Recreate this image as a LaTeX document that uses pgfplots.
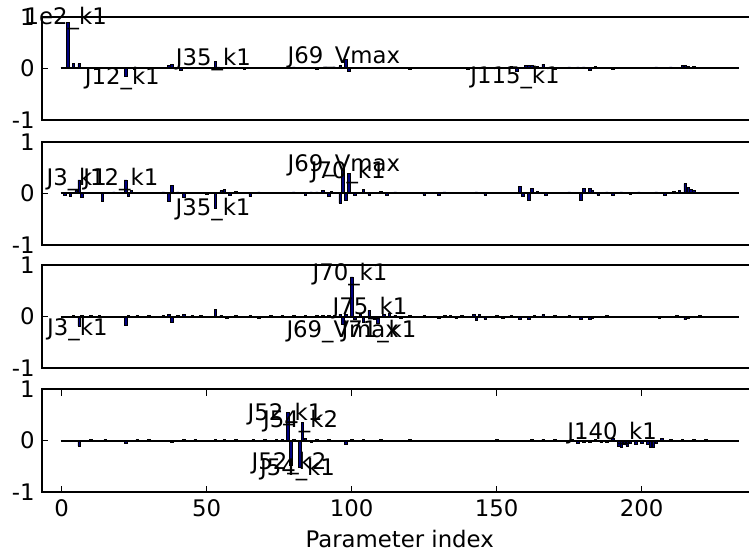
\documentclass[border=0pt]{standalone}
\usepackage{fontspec}
\setmainfont{DejaVu Sans}
\usepackage{pgfplots}
\pgfplotsset{compat=1.18}
\usepackage{pgfplotstable}
\newcommand\lbl{\fontsize{11.4pt}{13pt}\selectfont}
\definecolor{barnavy}{HTML}{000080}

\pgfplotstableread{
x y
2 0.89
4 0.10
6 0.09
12 -0.02
16 0.02
22 -0.16
25 -0.02
30 0.02
37 0.05
38 0.08
41 -0.03
44 0.02
53 0.13
54 0.03
58 0.02
63 -0.02
70 0.02
75 0.02
80 0.03
84 0.02
88 -0.02
91 0.03
94 0.03
96 0.05
98 0.18
99 -0.05
102 0.02
110 0.02
120 -0.02
130 0.02
140 -0.02
150 0.02
155 0.04
157 -0.06
160 0.05
161 0.06
162 0.05
164 0.04
166 0.08
170 -0.02
175 0.03
178 0.03
180 0.03
182 -0.03
184 0.04
190 -0.02
195 0.02
200 0.02
205 0.03
210 0.03
214 0.05
215 0.06
216 0.04
218 0.04
222 0.02
}\dataA

\pgfplotstableread{
x y
1 -0.03
3 -0.06
5 0.05
6 0.26
7 -0.07
10 0.02
14 -0.15
18 0.03
22 0.26
23 -0.05
24 0.05
28 0.02
32 0.02
35 0.03
37 -0.16
38 0.16
40 0.03
42 -0.08
46 0.02
50 -0.02
53 -0.29
55 0.05
56 0.07
58 -0.03
60 0.04
65 -0.06
68 0.03
70 0.02
75 0.02
80 0.03
84 -0.03
86 0.03
88 0.03
90 0.05
92 -0.05
93 0.04
96 -0.19
97 0.45
98 -0.14
99 0.38
101 -0.04
104 0.07
106 -0.03
110 0.04
112 -0.04
115 0.03
120 0.02
125 -0.03
128 0.02
130 -0.04
132 0.03
137 0.02
143 0.03
146 -0.03
148 0.02
152 0.02
158 0.14
159 -0.06
161 -0.13
162 0.10
164 0.04
167 -0.03
175 0.03
179 -0.13
180 0.10
182 0.10
183 0.05
185 -0.03
188 0.03
190 -0.03
193 0.03
196 -0.02
199 0.03
201 0.02
205 0.03
208 -0.03
211 0.04
213 0.06
215 0.19
216 0.12
217 0.08
218 0.05
220 0.02
223 0.02
}\dataB

\pgfplotstableread{
x y
2 -0.02
4 0.03
6 -0.18
7 0.03
10 0.02
13 0.03
16 -0.02
22 -0.16
23 0.03
26 0.02
30 0.02
35 0.02
37 0.05
38 -0.10
40 0.02
42 0.05
45 0.02
48 0.02
53 0.14
55 0.03
57 -0.03
60 0.02
65 0.02
68 -0.03
72 0.02
76 0.02
80 0.02
84 0.02
88 0.03
90 0.03
92 0.03
94 0.03
96 0.05
97 -0.15
98 0.05
100 0.77
101 -0.05
103 0.05
104 -0.10
106 0.12
108 -0.05
109 -0.12
111 0.04
113 0.07
115 0.03
117 -0.03
120 0.02
125 0.02
130 -0.03
132 0.03
134 0.02
136 -0.04
138 0.03
142 0.05
143 -0.07
144 0.04
146 -0.05
150 0.03
152 -0.03
155 0.02
158 -0.05
161 -0.05
163 0.03
166 0.04
170 0.02
175 0.02
179 -0.05
182 -0.05
183 -0.04
188 0.02
192 -0.02
197 -0.02
202 -0.02
206 -0.03
212 0.02
215 -0.06
216 -0.03
220 0.02
}\dataC

\pgfplotstableread{
x y
2 -0.02
6 -0.10
10 0.02
15 0.02
22 -0.05
26 0.02
30 0.02
38 -0.04
42 0.02
46 0.02
53 0.03
56 0.02
60 0.02
66 0.02
70 0.02
74 0.02
76 0.02
78 0.55
79 -0.48
80 0.03
82 -0.52
83 0.35
84 0.04
86 -0.03
88 0.02
92 0.02
98 -0.08
100 0.02
104 0.02
110 0.02
120 0.02
130 0.01
140 0.01
150 0.02
160 -0.02
162 0.03
164 -0.02
166 0.03
170 0.02
176 0.02
178 -0.05
180 -0.03
182 -0.04
184 0.03
186 -0.04
188 -0.03
190 0.04
192 -0.10
193 -0.12
194 -0.08
195 -0.10
196 -0.06
198 -0.08
200 -0.06
202 -0.08
203 -0.12
204 -0.13
205 -0.06
207 0.04
210 0.02
214 0.03
218 0.02
222 0.02
}\dataD

\pgfplotsset{
  panel/.style={
    scale only axis, width=358pt, height=51.65pt,
    xmin=-6.9, xmax=240, ymin=-1, ymax=1,
    clip=false,
    anchor=north west,
    axis line style={line width=1pt},
    ytick={-1,0,1}, yticklabels={-1,0,1},
    ticklabel style={font=\lbl},
    major tick length=3.3pt,
    every tick/.style={black, line width=0.5pt},
  },
  bars/.style={ybar, bar width=0.9, fill=barnavy, draw=black, line width=0.3pt},
  zeroline/.style={black, line width=1pt, mark=none},
}
\tikzset{lab/.style={anchor=base, font=\lbl, inner sep=0pt}}

\begin{document}
\begin{tikzpicture}
% panel 1
\begin{axis}[panel, at={(20.85pt,-8.35pt)}, xtick=\empty]
\addplot[bars] table {\dataA};
\addplot[zeroline] coordinates {(-0.4,0) (233.4,0)};
\node[lab] at (axis cs:1.4,0.84) {1e2\_k1};
\node[lab] at (axis cs:20.9,-0.32) {J12\_k1};
\node[lab] at (axis cs:52.3,0.06) {J35\_k1};
\node[lab] at (axis cs:97.3,0.10) {J69\_Vmax};
\node[lab] at (axis cs:156.3,-0.29) {J115\_k1};
\end{axis}
% panel 2
\begin{axis}[panel, at={(20.85pt,-70.85pt)}, xtick=\empty]
\addplot[bars] table {\dataB};
\addplot[zeroline] coordinates {(-0.4,0) (233.4,0)};
\node[lab] at (axis cs:5.2,0.16) {J3\_k1};
\node[lab] at (axis cs:20.4,0.16) {J12\_k1};
\node[lab] at (axis cs:52.2,-0.42) {J35\_k1};
\node[lab] at (axis cs:97.3,0.42) {J69\_Vmax};
\node[lab] at (axis cs:98.8,0.28) {J70\_k1};
\end{axis}
% panel 3
\begin{axis}[panel, at={(20.85pt,-132.5pt)}, xtick=\empty]
\addplot[bars] table {\dataC};
\addplot[zeroline] coordinates {(-0.4,0) (233.4,0)};
\node[lab] at (axis cs:5.4,-0.36) {J3\_k1};
\node[lab] at (axis cs:99.4,0.70) {J70\_k1};
\node[lab] at (axis cs:106.3,0.05) {J75\_k1};
\node[lab] at (axis cs:96.9,-0.40) {J69\_Vmax};
\node[lab] at (axis cs:109.4,-0.40) {J71\_k1};
\end{axis}
% panel 4
\begin{axis}[panel, at={(20.85pt,-194.5pt)},
  xtick={0,50,100,150,200}, xticklabels={0,50,100,150,200},
  xlabel={Parameter index}, xlabel style={font=\lbl}]
\addplot[bars] table {\dataD};
\addplot[zeroline] coordinates {(-0.4,0) (233.4,0)};
\node[lab] at (axis cs:77,0.39) {J52\_k1};
\node[lab] at (axis cs:82.4,0.25) {J54\_k2};
\node[lab] at (axis cs:78.4,-0.55) {J52\_k2};
\node[lab] at (axis cs:81.3,-0.68) {J54\_k1};
\node[lab] at (axis cs:189.8,0.03) {J140\_k1};
\end{axis}
\pgfresetboundingbox
\useasboundingbox (0,0) rectangle (374.5pt,-278.5pt);
\end{tikzpicture}
\end{document}
